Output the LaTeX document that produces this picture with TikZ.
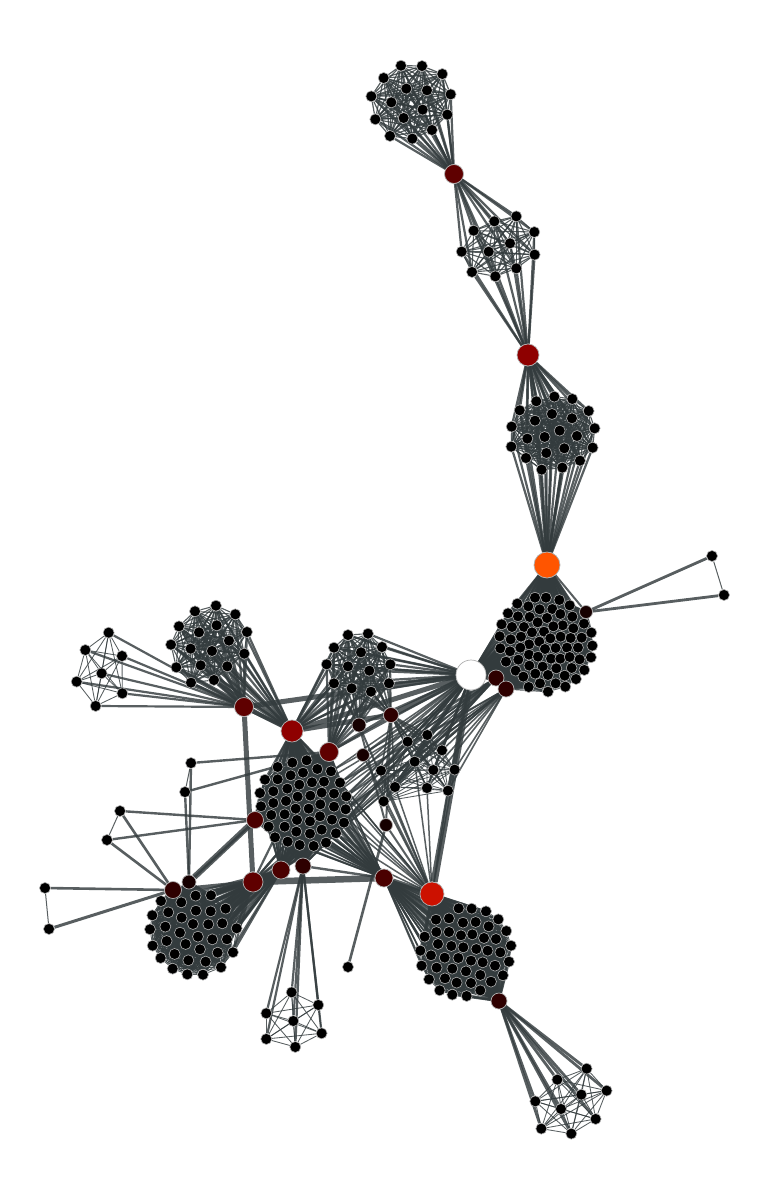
\documentclass[tikz,border=0pt]{standalone}
\usetikzlibrary{backgrounds}

\definecolor{edgegray}{HTML}{333B3D}
\definecolor{ringgray}{HTML}{B0B0B0}
\definecolor{heatA}{HTML}{160000}
\definecolor{heatB}{HTML}{2E0000}
\definecolor{heatC}{HTML}{4A0000}
\definecolor{heatD}{HTML}{5F0000}
\definecolor{heatE}{HTML}{8E0000}
\definecolor{heatF}{HTML}{CC1100}
\definecolor{heatG}{HTML}{FF5500}

\tikzset{
  leaf/.style={circle,draw=ringgray,fill=black,line width=.6pt,inner sep=0pt,minimum size=11pt},
  hub/.style={circle,draw=ringgray,line width=.7pt,inner sep=0pt},
  link/.style={draw=edgegray,draw opacity=.82,line width=#1}
}

% a group of leaves, read off at 3x from the corner (#2,#3)
\newcommand{\leaves}[4]{%
  \begin{scope}[shift={(#2,#3)},x=.3333pt,y=-.3333pt]
    \foreach \x/\y [count=\i] in {#4} {\node[leaf] (#1\i) at (\x,\y) {};}
  \end{scope}}
% every pair inside a group
\newcommand{\clique}[3][.85pt]{%
  \foreach \i in {1,...,#3} {\foreach \j in {1,...,#3} {%
    \ifnum\i<\j \draw[link=#1] (#2\i) -- (#2\j);\fi}}}
% one hub to some leaves of a group
\newcommand{\fan}[4][2.2pt]{%
  \foreach \i in {#4} {\draw[link=#1] (#2) -- (#3\i);}}

\begin{document}
\begin{tikzpicture}[x=1pt,y=-1pt]
  \useasboundingbox (0,0) rectangle (769,1200);

  % leaves
  \leaves{a}{350}{50}{153/47,216/48,277/72,101/84,169/116,231/121,302/133,64/139,124/157,218/179,292/194,76/208,161/204,246/240,120/258,187/266}
  \leaves{b}{450}{200}{199/49,133/64,71/92,253/96,180/130,35/155,116/155,254/164,199/205,66/216,136/229}
  \leaves{c}{450}{200}{313/590,367/597,259/604,416/633,209/631,306/642,366/655,255/662,434/685,185/680,329/692,381/708,284/711,232/716,184/740,428/743,343/745,289/759,228/774,390/782,275/809,337/803}
  \leaves{d}{460}{540}{225/173,258/173,298/180,172/191,329/196,205/199,239/208,277/207,144/220,174/229,301/222,337/230,209/231,261/234,233/247,125/253,156/261,192/261,372/251,308/256,280/259,340/265,216/277,252/275,394/278,119/289,152/298,183/290,302/290,332/294,271/295,365/293,238/305,207/313,121/325,181/323,150/334,397/317,287/324,255/327,321/323,354/323,207/344,234/350,175/359,138/365,393/352,273/356,301/356,329/351,359/358,208/377,248/380,335/384,289/385,373/390,167/392,226/401,190/410,264/405,314/407,348/417,240/430,287/430,316/440,206/441,264/455}
  \leaves{e}{400}{880}{176/85,215/86,258/94,295/118,108/119,147/115,189/128,227/126,266/139,319/153,109/156,147/156,183/166,217/163,252/174,288/177,74/170,333/197,114/192,154/198,190/202,229/207,263/212,301/217,61/212,93/226,134/233,175/234,213/242,248/247,285/257,327/245,65/257,110/263,157/266,198/274,241/285,309/286,87/298,135/295,170/308,213/309,273/305,119/331,157/344,200/348,241/331}
  \leaves{f}{400}{880}{560/566,472/599,620/632,544/644,406/664,483/687,587/717,424/746,514/761}
  \leaves{g}{240}{600}{324/105,384/101,282/143,426/141,363/157,260/193,324/199,451/193,388/212,282/250,335/265,447/250,393/275}
  \leaves{h}{240}{600}{562/405,503/425,606/451,524/485,580/510,644/509,423/512,465/561,561/564,624/572,431/604}
  \leaves{i}{240}{600}{113/501,157/488,200/481,232/507,273/514,75/539,113/538,152/526,189/518,178/554,216/547,252/545,300/548,60/579,100/574,142/566,173/590,211/587,245/578,282/581,319/589,63/619,100/609,138/603,167/626,206/626,241/613,282/620,317/628,94/645,134/643,171/660,210/664,240/649,276/659,312/668,86/680,134/680,169/695,210/701,245/689,288/700,105/712,143/725,179/735,221/738,258/728}
  \leaves{j}{30}{740}{497/467,543/466,393/483,454/487,415/517,498/512,542/514,587/506,367/526,455/533,489/552,535/553,577/550,360/568,406/560,450/578,620/565,410/603,504/590,547/598,591/598,368/617,467/612,510/628,434/642,563/638,609/637,392/654,475/661,527/665,573/682,428/686,472/703,519/704}
  \leaves{k}{30}{740}{785/757,865/795,709/820,790/843,875/880,709/897,796/921}
  \leaves{l}{60}{590}{405/64,468/47,526/73,357/109,470/106,417/127,561/126,333/164,507/152,392/176,456/183,553/191,349/232,422/226,502/229,393/278,462/270}
  \leaves{m}{60}{590}{146/128,76/180,186/198,125/250,50/275,187/310,107/348}

  \node[leaf] (t1) at (712,556) {};
  \node[leaf] (t2) at (724,595) {};
  \node[leaf] (t3) at (191,763) {};
  \node[leaf] (t4) at (185,792) {};
  \node[leaf] (t5) at (120,811) {};
  \node[leaf] (t6) at (107,840) {};
  \node[leaf] (t7) at (45,888)  {};
  \node[leaf] (t8) at (49,929)  {};
  \node[leaf] (s1) at (348,967) {};

  % hubs
  \node[hub,fill=heatD,minimum size=19pt] (hA) at (454,174)  {};
  \node[hub,fill=heatE,minimum size=22pt] (hB) at (528,355)  {};
  \node[hub,fill=heatG,minimum size=26pt] (hC) at (547,565)  {};
  \node[hub,fill=white,minimum size=30pt] (hW) at (471,675)  {};
  \node[hub,fill=heatB,minimum size=16pt] (hX) at (496,678)  {};
  \node[hub,fill=heatB,minimum size=16pt] (hY) at (506,689)  {};
  \node[hub,fill=heatA,minimum size=13pt] (hZ) at (586,612)  {};
  \node[hub,fill=heatE,minimum size=22pt] (hP) at (292,731)  {};
  \node[hub,fill=heatD,minimum size=19pt] (hQ) at (329,752)  {};
  \node[hub,fill=heatB,minimum size=15pt] (hR) at (391,715)  {};
  \node[hub,fill=heatA,minimum size=14pt] (hS) at (359,725)  {};
  \node[hub,fill=heatA,minimum size=13pt] (hT) at (363,755)  {};
  \node[hub,fill=heatA,minimum size=13pt] (hU) at (386,825)  {};
  \node[hub,fill=heatC,minimum size=17pt] (hV) at (255,820)  {};
  \node[hub,fill=heatD,minimum size=19pt] (hL) at (244,707)  {};
  \node[hub,fill=heatD,minimum size=20pt] (hM) at (253,882)  {};
  \node[hub,fill=heatC,minimum size=18pt] (hN) at (281,870)  {};
  \node[hub,fill=heatB,minimum size=16pt] (hO) at (303,866)  {};
  \node[hub,fill=heatC,minimum size=18pt] (hG) at (384,878)  {};
  \node[hub,fill=heatF,minimum size=24pt] (hH) at (432,894)  {};
  \node[hub,fill=heatB,minimum size=16pt] (hE) at (499,1001) {};
  \node[hub,fill=heatB,minimum size=17pt] (hJ) at (173,890)  {};
  \node[hub,fill=heatA,minimum size=14pt] (hI) at (189,882)  {};

  \begin{scope}[on background layer]
    % inside the groups
    \clique[1.2pt]{a}{16}
    \clique[1.1pt]{b}{11}
    \clique[1.1pt]{c}{22}
    \clique{d}{67}
    \clique{e}{47}
    \clique{f}{9}
    \clique[1.1pt]{g}{13}
    \clique{h}{11}
    \clique{i}{47}
    \clique{j}{34}
    \clique{k}{7}
    \clique[1.1pt]{l}{17}
    \clique{m}{7}

    % hubs to groups
    \fan{hA}{a}{1,...,16}
    \fan{hA}{b}{1,...,11}
    \fan{hB}{b}{1,...,11}
    \fan{hB}{c}{1,...,22}
    \fan{hC}{c}{1,...,22}
    \fan{hC}{d}{1,...,67}
    \fan{hW}{d}{1,...,67}
    \fan{hZ}{d}{1,...,67}
    \fan[1.2pt]{hX}{d}{1,...,67}
    \fan[1.2pt]{hY}{d}{1,...,67}
    \fan{hW}{g}{1,...,13}
    \fan{hW}{h}{1,...,11}
    \fan[1.6pt]{hX}{h}{2,4,7,8,11}
    \fan[1.6pt]{hY}{h}{1,3,5,6,9,10}
    \fan[1.5pt]{hW}{i}{5,13,21,29,36,42,47,20,28,35}
    \fan[1.5pt]{hX}{i}{5,13,21,29,36,42,12,27}
    \fan[1.5pt]{hY}{i}{13,21,29,36,42,47,35,41}
    \fan[1.6pt]{hR}{g}{1,...,13}
    \fan[1.6pt]{hS}{g}{1,...,13}
    \fan[1.6pt]{hR}{h}{1,...,11}
    \fan{hP}{g}{1,...,13}
    \fan{hQ}{g}{1,...,13}
    \fan{hP}{l}{1,...,17}
    \fan{hL}{l}{1,...,17}
    \fan{hL}{m}{1,...,7}
    \fan{hP}{i}{1,...,47}
    \fan{hQ}{i}{1,...,47}
    \fan{hV}{i}{1,...,47}
    \fan[1.4pt]{hG}{i}{1,...,47}
    \fan{hM}{i}{43,44,45,46,39,40}
    \fan[1.6pt]{hN}{i}{1,...,47}
    \fan[1.6pt]{hO}{i}{1,...,47}
    \fan[1.5pt]{hH}{i}{13,21,29,36,42,47,5,28}
    \fan[1.5pt]{hH}{h}{7,8,11,9,10,4,6}
    \fan{hM}{j}{1,...,34}
    \fan{hN}{j}{1,...,34}
    \fan{hJ}{j}{1,...,34}
    \fan{hI}{j}{1,...,34}
    \fan{hO}{k}{1,...,7}
    \fan[1.5pt]{hG}{e}{1,...,47}
    \fan{hH}{e}{1,...,47}
    \fan{hE}{e}{1,...,47}
    \fan[2.8pt]{hE}{f}{1,...,9}

    % the small outliers
    \draw[link=1pt] (t1) -- (t2);
    \draw[link=1pt] (t3) -- (t4);
    \draw[link=1pt] (t5) -- (t6);
    \draw[link=1pt] (t7) -- (t8);
    \draw[link=2.8pt] (hZ) -- (t1);
    \draw[link=2.8pt] (hZ) -- (t2);
    \draw[link=2.4pt] (hI) -- (t3);
    \draw[link=2.4pt] (hI) -- (t4);
    \draw[link=2.4pt] (hQ) -- (t3);
    \draw[link=2.4pt] (hQ) -- (t4);
    \draw[link=2.4pt] (hV) -- (t5);
    \draw[link=2.4pt] (hV) -- (t6);
    \draw[link=2.6pt] (hJ) -- (t5);
    \draw[link=2.6pt] (hJ) -- (t6);
    \draw[link=2.6pt] (hJ) -- (t7);
    \draw[link=3pt]   (hJ) -- (t8);
    \draw[link=2.6pt] (hU) -- (s1);

    % hub to hub
    \draw[link=7pt]   (hW) -- (hH);
    \draw[link=5pt]   (hL) -- (hM);
    \draw[link=5pt]   (hL) -- (hW);
    \draw[link=6.5pt] (hM) -- (hG);
    \draw[link=4pt]   (hP) -- (hL);
    \draw[link=6pt]   (hV) -- (hI);
    \draw[link=2.5pt] (hQ) -- (hI);
    \draw[link=5pt]   (hP) -- (hW);
    \draw[link=6pt]   (hR) -- (hW);
    \draw[link=5pt]   (hR) -- (hP);
    \draw[link=3pt]   (hQ) -- (hR);
    \draw[link=4pt]   (hM) -- (hJ);
    \draw[link=5pt]   (hG) -- (hH);
    \draw[link=2.4pt] (hO) -- (hG);
    \draw[link=2.4pt] (hQ) -- (hS);
    \draw[link=2.4pt] (hS) -- (hW);
    \draw[link=2.4pt] (hT) -- (hW);
    \draw[link=2.4pt] (hQ) -- (hW);
    \draw[link=2pt]   (hU) -- (hR);
    \draw[link=2pt]   (hU) -- (hS);
    \draw[link=2pt]   (hT) -- (hH);
    \draw[link=2pt]   (hS) -- (hH);
    \draw[link=2pt]   (hU) -- (hH);
    \draw[link=2pt]   (hC) -- (hZ);
    \draw[link=2.4pt] (hC) -- (hW);
  \end{scope}
\end{tikzpicture}
\end{document}
